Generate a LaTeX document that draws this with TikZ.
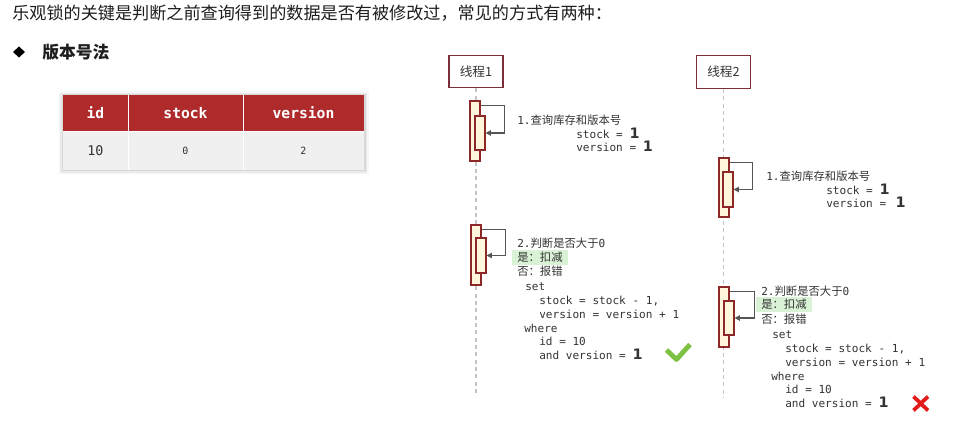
\documentclass[tikz,border=0pt]{standalone}
\usepackage{fontspec}
\usetikzlibrary{arrows.meta}
\newfontfamily\cjk{Noto Sans CJK SC}
\newfontfamily\monof{DejaVu Sans Mono}
\newfontfamily\numf{DejaVu Sans}
\definecolor{hdr}{HTML}{AF2A2B}
\definecolor{bodyc}{HTML}{F0F0F0}
\definecolor{thrd}{HTML}{7D2E3A}
\definecolor{actb}{HTML}{8E2727}
\definecolor{actf}{HTML}{FFF6DC}
\definecolor{lifec}{HTML}{C4C4C4}
\definecolor{arrc}{HTML}{555555}
\definecolor{txt}{HTML}{333333}
\definecolor{ttl}{HTML}{1E1E1E}
\definecolor{hlc}{HTML}{D9F2D5}
\definecolor{okc}{HTML}{7DC142}
\definecolor{errc}{HTML}{E31B1B}
\newcommand\zh[1]{{\cjk\fontsize{8.5}{10}\selectfont #1}}
\newcommand\bone{{\numf\bfseries\fontsize{10.8}{10}\selectfont 1}}
\tikzset{
  thread/.style={draw=thrd, line width=0.8pt, fill=white, minimum width=40.5pt,
    minimum height=24.5pt, inner sep=0, font=\cjk\fontsize{9.5}{10}\selectfont, text=txt},
  act/.style={draw=actb, line width=0.8pt, fill=actf, minimum width=7.5pt, inner sep=0},
  life/.style={draw=lifec, line width=0.8pt, dash pattern=on 3pt off 2.5pt},
  selfarr/.style={draw=arrc, line width=0.9pt, -{Triangle[length=4pt,width=4pt]}},
  seq/.style={anchor=base west, inner sep=0, text=txt, font=\monof\fontsize{8.3}{10}\selectfont},
  hl/.style={seq, fill=hlc, inner xsep=3.75pt, inner ysep=1.6pt},
  hcell/.style={fill=hdr, minimum height=27pt, inner sep=0, text=white,
    font=\monof\bfseries\fontsize{11}{12}\selectfont},
  bcell/.style={fill=bodyc, minimum height=29.25pt, inner sep=0, text=txt},
  sep/.style={draw=white, line width=0.8pt},
}
\begin{document}
\begin{tikzpicture}[x=0.75pt, y=-0.75pt]
\fill[white] (0,0) rectangle (958,423);
\useasboundingbox (0,0) rectangle (958,423);

% title and heading
\node[anchor=west, inner sep=0, text=ttl, font=\cjk\fontsize{12.85}{14}\selectfont] (title) at (12,13.5)
  {乐观锁的关键是判断之前查询得到的数据是否有被修改过，常见的方式有两种：};
\fill[black] (19,46.5) -- (25,52) -- (19,57.5) -- (13,52) -- cycle;
\node[anchor=west, inner sep=0, text=ttl, font=\cjk\bfseries\fontsize{12.6}{14}\selectfont] (head) at (42,52) {版本号法};

% table shadow
\fill[black, opacity=0.03] (58.5,91.5) rectangle (368.5,174.5);
\fill[black, opacity=0.05] (60,93) rectangle (367,173);
\fill[black, opacity=0.08] (61.5,94.5) rectangle (365.5,171.5);
% table
\node[hcell, minimum width=48.75pt] (h1) at (95.5,113) {id};
\node[hcell, minimum width=86.25pt] (h2) at (185.5,113) {stock};
\node[hcell, minimum width=90.75pt] (h3) at (303.5,113) {version};
\node[bcell, minimum width=48.75pt, font=\monof\fontsize{10}{11}\selectfont] (c1) at (95.5,150.5) {10};
\node[bcell, minimum width=86.25pt, font=\monof\fontsize{7.5}{8}\selectfont] (c2) at (185.5,150.5) {0};
\node[bcell, minimum width=90.75pt, font=\monof\fontsize{7.5}{8}\selectfont] (c3) at (303.5,150.5) {\raisebox{-2pt}{2}};
\draw[sep] (h1.north east) -- (c1.south east);
\draw[sep] (h2.north east) -- (c2.south east);
\draw[draw=white, line width=0.5pt] (h1.south west) -- (h3.south east);

% threads and lifelines
\node[thread] (th1) at (476,71.5) {线程1};
\node[thread] (th2) at (723.5,72) {线程2};
\coordinate (l1end) at (476,396);
\coordinate (l2end) at (723.5,398);
\draw[life] (th1.south) -- (l1end);
\draw[life] (th2.south) -- (l2end);

% activations
\node[act, minimum height=45pt] (a1o) at (475,131) {};
\node[act, minimum height=25.5pt] (a1i) at (480,133) {};
\node[act, minimum height=44.25pt] (b1o) at (724,187.5) {};
\node[act, minimum height=26.25pt] (b1i) at (728,189.5) {};
\node[act, minimum height=45pt] (a2o) at (476,255) {};
\node[act, minimum height=26.25pt] (a2i) at (481,255.5) {};
\node[act, minimum height=45pt] (b2o) at (724,317) {};
\node[act, minimum height=25.5pt] (b2i) at (729,318) {};

\draw[selfarr] ([yshift=-3.75pt]a1o.north east) -- ++(24,0) |- (a1i.east);
\draw[selfarr] ([yshift=-3.75pt]b1o.north east) -- ++(23,0) |- (b1i.east);
\draw[selfarr] ([yshift=-3.5pt]a2o.north east) -- ++(24,0) |- (a2i.east);
\draw[selfarr] ([yshift=-3.75pt]b2o.north east) -- ++(25,0) |- (b2i.east);

% thread 1 step 1
\node[seq] (p1a) at (517,125) {1.\zh{查询库存和版本号}};
\node[seq] (p1b) at (576,139) {stock = \bone};
\node[seq] (p1c) at (576,152) {version = \bone};
% thread 2 step 1
\node[seq] (q1a) at (766,180.5) {1.\zh{查询库存和版本号}};
\node[seq] (q1b) at (826,195) {stock = \bone};
\node[seq] (q1c) at (826,208) {version = \hspace{2pt}\bone};

% thread 1 step 2
\node[seq] (p2a) at (517,248) {2.\zh{判断是否大于}0};
\node[hl]  (p2b) at (512,261.5) {\zh{是：扣减}};
\node[seq] (p2c) at (517,275.5) {\zh{否：报错}};
\node[seq] (p2d) at (525,291) {set};
\node[seq] (p2e) at (539,305) {stock = stock - 1,};
\node[seq] (p2f) at (539,318.7) {version = version + 1};
\node[seq] (p2g) at (524,332.5) {where};
\node[seq] (p2h) at (539,346) {id = 10};
\node[seq] (p2i) at (539,360) {and version = \bone};

% thread 2 step 2
\node[seq] (q2a) at (761,295.5) {2.\zh{判断是否大于}0};
\node[hl]  (q2b) at (756,309) {\zh{是：扣减}};
\node[seq] (q2c) at (761,323.5) {\zh{否：报错}};
\node[seq] (q2d) at (772,339) {set};
\node[seq] (q2e) at (785,352.7) {stock = stock - 1,};
\node[seq] (q2f) at (785,366.4) {version = version + 1};
\node[seq] (q2g) at (771,380.1) {where};
\node[seq] (q2h) at (785,393.8) {id = 10};
\node[seq] (q2i) at (785,407.5) {and version = \bone};

% check mark and cross
\draw[okc, line width=3.6pt, line join=round] (666.5,350) -- (676.5,359.5) -- (690,344.5);
\draw[errc, line width=2.8pt] (913.5,396.5) -- (928,410.5) (928,396.5) -- (913.5,410.5);
\end{tikzpicture}
\end{document}
